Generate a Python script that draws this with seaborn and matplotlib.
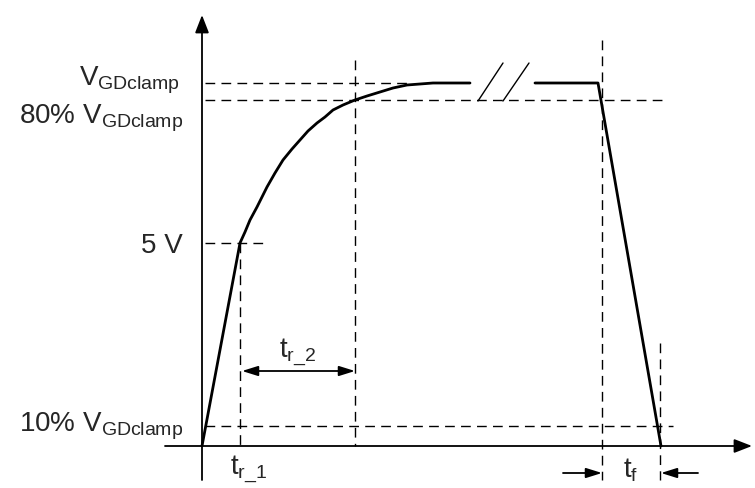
import seaborn as sns
import matplotlib.pyplot as plt
import pandas as pd

# levels (diagram units, not to scale)
v_clamp = 363
v_80 = 346
v_5 = 203
v_10 = 20

# gate voltage waveform, rise part
rise_t = [0, 38, 43, 48, 55, 60, 65, 73, 81, 90, 98, 106, 115, 123, 131, 141,
          153, 165, 178, 191, 205, 218, 231, 268]
rise_v = [0, 203, 214, 226, 239, 249, 259, 273, 286, 297, 306, 315, 323, 329, 336, 341,
          346, 350, 354, 358, 361, 362, 363, 363]
# after the time break: flat then fall
fall_t = [333, 396, 459]
fall_v = [363, 363, 0]
# break slashes
brk1_t = [276, 301]
brk2_t = [301, 327]
brk_v = [345, 383]

# time markers
t_5v = 38
t_80 = 153
t_off = 400
t_10 = 458

sns.set_theme(style='white')
plt.rcParams['font.family'] = ['Liberation Sans', 'DejaVu Sans']
plt.rcParams['mathtext.default'] = 'regular'

fig = plt.figure(figsize=(7.55, 4.88), dpi=100)
ax = fig.add_axes([0, 0, 1, 1])
ax.set_xlim(-202, 553)
ax.set_ylim(-42, 446)
ax.axis('off')

rise = pd.DataFrame({'t': rise_t, 'v': rise_v})
fall = pd.DataFrame({'t': fall_t, 'v': fall_v})
sns.lineplot(data=rise, x='t', y='v', sort=False, color='black', lw=2.0, ax=ax)
sns.lineplot(data=fall, x='t', y='v', sort=False, color='black', lw=2.0, ax=ax)
ax.plot(brk1_t, brk_v, color='black', lw=1)
ax.plot(brk2_t, brk_v, color='black', lw=1)

# dashed helper lines
dash = dict(color='black', lw=1, dashes=(7, 4.5))
ax.plot([3, 205], [v_clamp, v_clamp], **dash)
ax.plot([3, 461], [v_80, v_80], **dash)
ax.plot([3, 63], [v_5, v_5], **dash)
ax.plot([3, 471], [v_10, v_10], **dash)
ax.plot([t_5v, t_5v], [v_5, -1], **dash)
ax.plot([t_80, t_80], [386, 0], **dash)
ax.plot([t_off, t_off], [406, -34], **dash)
ax.plot([t_10, t_10], [103, -34], **dash)

# axes with arrows
axis_arrow = dict(arrowstyle='-|>,head_length=0.9,head_width=0.35', color='black', lw=1.3,
                  shrinkA=0, shrinkB=0)
ax.annotate('', xy=(0, 431), xytext=(0, -34), arrowprops=axis_arrow)
ax.annotate('', xy=(550, 0), xytext=(-37, 0), arrowprops=axis_arrow)

# dimension arrows
dim = dict(arrowstyle='<|-|>,head_length=0.8,head_width=0.25', color='black', lw=1.3,
           shrinkA=0, shrinkB=0)
ax.annotate('', xy=(t_80, 75), xytext=(t_5v + 2, 75), arrowprops=dim)
one = dict(arrowstyle='-|>,head_length=0.8,head_width=0.25', color='black', lw=1.3,
           shrinkA=0, shrinkB=0)
ax.annotate('', xy=(t_off, -27), xytext=(361, -27), arrowprops=one)
ax.annotate('', xy=(t_10 + 1, -27), xytext=(496, -27), arrowprops=one)

# labels
fs = 20
ax.text(-22, 361, '$V_{GDclamp}$', fontsize=fs, ha='right', va='baseline')
ax.text(-19, 323, '80% $V_{GDclamp}$', fontsize=fs, ha='right', va='baseline')
ax.text(-19, 193, '5 V', fontsize=fs, ha='right', va='baseline')
ax.text(-19, 14, '10% $V_{GDclamp}$', fontsize=fs, ha='right', va='baseline')
ax.text(96, 89, r'$t_{r\_2}$', fontsize=fs, ha='center', va='baseline')
ax.text(28, -28, r'$t_{r\_1}$', fontsize=fs, ha='left', va='baseline')
ax.text(421, -31, '$t_{f}$', fontsize=fs, ha='left', va='baseline')

fig.savefig('out.png', dpi=100, facecolor='white')
